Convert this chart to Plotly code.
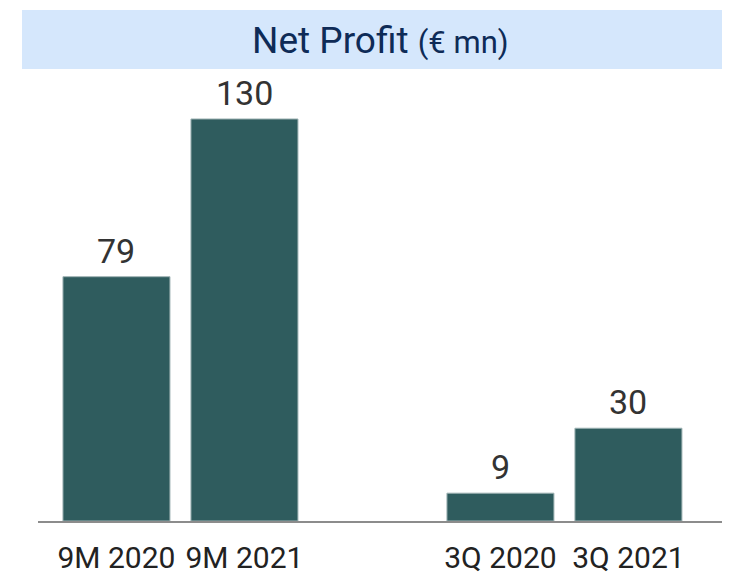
import plotly.graph_objects as go

categories = ["9M 2020", "9M 2021", " ", "3Q 2020", "3Q 2021"]
values = [79, 130, None, 9, 30]
value_labels = ["79", "130", "", "9", "30"]
title_main = "Net Profit"
title_unit = "(€ mn)"

BAR = "#2F5C5E"
# page body has an 8px margin, so the figure is offset by 8px in the window
W, H = 714, 569
ml, mr, mt, mb = 30, 0, 72, 56
PW, PH = W - ml - mr, H - mt - mb


def px_x(x):
    return (x - ml) / PW


def px_y(y):
    return 1 - (y - mt) / PH


fig = go.Figure()
fig.add_trace(go.Bar(
    x=categories, y=values,
    marker=dict(color=BAR, line=dict(color="#9FB3B4", width=1)),
    width=0.836, cliponaxis=False,
))

annotations = []
for c, v, t in zip(categories, values, value_labels):
    if v is None:
        continue
    annotations.append(dict(x=c, y=v, xref="x", yref="y", text=t, showarrow=False,
                            xanchor="center", yanchor="bottom", yshift=4,
                            font=dict(family="Roboto, Arial, sans-serif", size=34, color="#333333")))

annotations.append(dict(xref="paper", yref="paper", x=px_x(372), y=px_y(33),
                        xanchor="center", yanchor="middle", showarrow=False,
                        text=f"{title_main} <span style='font-size:31px'>{title_unit}</span>",
                        font=dict(family="Roboto, sans-serif", size=37, color="#0E2B57")))

fig.update_layout(
    width=W, height=H,
    margin=dict(l=ml, r=mr, t=mt, b=mb, pad=0),
    paper_bgcolor="white", plot_bgcolor="white",
    showlegend=False,
    xaxis=dict(type="category", range=[-0.613, 4.731], showgrid=False, zeroline=False,
               showline=True, linecolor="#8C8C8C", linewidth=2, automargin=False,
               tickfont=dict(family="Roboto, Arial, sans-serif", size=30, color="#222222"),
               ticks="", ticklabelstandoff=9, fixedrange=True),
    yaxis=dict(range=[0, 142.6], visible=False, fixedrange=True, automargin=False),
    shapes=[dict(type="rect", xref="paper", yref="paper",
                 x0=px_x(14), x1=px_x(730),
                 y0=px_y(61), y1=px_y(2),
                 fillcolor="#D5E7FC", line=dict(width=0), layer="below")],
    annotations=annotations,
)

fig.write_html("out.html")
